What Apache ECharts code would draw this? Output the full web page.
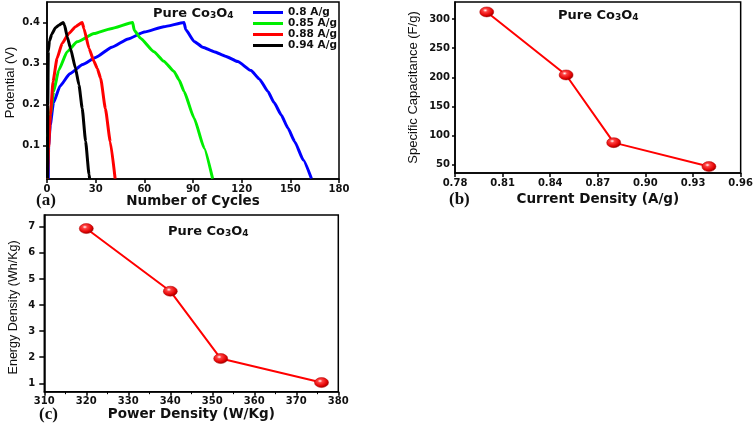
<!DOCTYPE html>
<html><head><meta charset="utf-8">
<script src="https://cdn.jsdelivr.net/npm/echarts@6/dist/echarts.min.js"></script>
<style>html,body{margin:0;padding:0;background:#fff}#c{width:756px;height:426px}</style>
</head><body><div id="c"></div>
<script>
// ---- Panel (a): galvanostatic charge/discharge ----
const seriesNamesA = ['0.8 A/g', '0.85 A/g', '0.88 A/g', '0.94 A/g'];
const cycles08 = [0.8, 1.0, 2, 4, 8, 14, 22, 30, 40, 50, 60, 72, 84.5, 85.5, 90.7, 96, 103, 110, 117.6, 125.8, 131, 136.2, 140, 144.4, 148.5, 152.7, 158, 163];
const pot08 = [0.02, 0.10, 0.15, 0.205, 0.245, 0.275, 0.298, 0.315, 0.34, 0.36, 0.377, 0.39, 0.40, 0.383, 0.354, 0.34, 0.329, 0.318, 0.305, 0.283, 0.262, 0.232, 0.205, 0.175, 0.143, 0.11, 0.065, 0.02];
const cycles085 = [0.3, 0.5, 2, 4.1, 7.2, 12.4, 18.6, 29, 39.3, 52.8, 53.8, 57.6, 65.9, 72, 78.3, 81.5, 84.5, 90.7, 96.9, 102.1];
const pot085 = [0.02, 0.12, 0.175, 0.232, 0.284, 0.329, 0.353, 0.373, 0.385, 0.40, 0.381, 0.362, 0.329, 0.306, 0.281, 0.26, 0.232, 0.167, 0.094, 0.02];
const cycles088 = [0.3, 1, 2.1, 3.7, 6.2, 9.3, 13.4, 17.6, 21.7, 22.8, 25.9, 29, 31, 33.1, 36, 39, 42];
const pot088 = [0.02, 0.094, 0.175, 0.256, 0.313, 0.349, 0.373, 0.39, 0.40, 0.385, 0.337, 0.305, 0.288, 0.264, 0.19, 0.11, 0.02];
const cycles094 = [0.3, 0.5, 0.8, 1.5, 3, 5.2, 7.5, 9.9, 10.8, 12.5, 14.5, 17.6, 19.7, 21.7, 23.8, 25.9, 26.3];
const pot094 = [0.02, 0.2, 0.33, 0.355, 0.372, 0.387, 0.394, 0.40, 0.394, 0.365, 0.337, 0.288, 0.248, 0.191, 0.111, 0.03, 0.02];
const cycleTicks = [0, 30, 60, 90, 120, 150, 180];
const potentialTicks = [0.1, 0.2, 0.3, 0.4];

// ---- Panel (b): specific capacitance ----
const currentDensity = [0.80, 0.85, 0.88, 0.94];
const specificCap = [312, 204, 88, 47];
const currentTicks = [0.78, 0.81, 0.84, 0.87, 0.90, 0.93, 0.96];
const capTicks = [50, 100, 150, 200, 250, 300];

// ---- Panel (c): Ragone ----
const powerDensity = [320, 340, 352, 376];
const energyDensity = [6.93, 4.53, 1.95, 1.03];
const powerTicks = [310, 320, 330, 340, 350, 360, 370, 380];
const energyTicks = [1, 2, 3, 4, 5, 6, 7];

const zip = (xs, ys) => xs.map((x, i) => [x, ys[i]]);
const HFONT = 'DejaVu Sans';
const VFONT = 'Liberation Sans';

function xAx(gi, min, max, ticks, name, gap, dec, minor) {
  return {
    type: 'value', gridIndex: gi, min: min, max: max,
    name: name, nameLocation: 'middle', nameGap: gap,
    nameTextStyle: {fontFamily: HFONT, fontWeight: 'bold', fontSize: 13.5, color: '#111'},
    axisLine: {show: true, lineStyle: {color: '#000', width: 1.5}},
    axisTick: {show: true, inside: false, length: 4, lineStyle: {width: 1.5, color: '#000'}, customValues: ticks},
    minorTick: {show: !!minor, splitNumber: 2, length: 2.5, lineStyle: {color: '#000', width: 1}},
    axisLabel: {customValues: ticks, margin: 5, fontFamily: HFONT, fontWeight: 'bold', fontSize: 10, color: '#111',
      formatter: v => dec ? v.toFixed(dec) : String(v)},
    splitLine: {show: false}
  };
}
function yAx(gi, min, max, ticks, name, gap, margin, tlen, extra) {
  return Object.assign({
    type: 'value', gridIndex: gi, min: min, max: max,
    name: name, nameLocation: 'middle', nameGap: gap, nameRotate: 90,
    nameTextStyle: {fontFamily: VFONT, fontWeight: 'normal', fontSize: 13, color: '#111'},
    axisLine: {show: true, lineStyle: {color: '#000', width: 1.5}},
    axisTick: {show: true, inside: false, length: tlen, lineStyle: {width: 1.5, color: '#000'}, customValues: ticks},
    axisLabel: {customValues: ticks, margin: margin, fontFamily: HFONT, fontWeight: 'bold', fontSize: 10, color: '#111',
      formatter: v => String(v)},
    splitLine: {show: false}
  }, extra || {});
}

const titleRich = {
  m: {fontFamily: HFONT, fontWeight: 'bold', fontSize: 13, color: '#111', lineHeight: 18, verticalAlign: 'bottom'},
  s: {fontFamily: HFONT, fontWeight: 'bold', fontSize: 9, color: '#111', lineHeight: 9, verticalAlign: 'bottom'}
};
const titleText = '{m|Pure Co}{s|3}{m|O}{s|4}';

const sphere = {
  type: 'radial', x: 0.4, y: 0.35, r: 0.65,
  colorStops: [{offset: 0, color: '#ffffff'}, {offset: 0.25, color: '#ff4040'}, {offset: 0.75, color: '#e00000'}, {offset: 1, color: '#900000'}]
};

const colorsA = ['#0000ff', '#00ee00', '#ff0000', '#000000'];
const dataA = [zip(cycles08, pot08), zip(cycles085, pot085), zip(cycles088, pot088), zip(cycles094, pot094)];

const option = {
  backgroundColor: '#ffffff',
  animation: false,
  title: [
    {text: titleText, left: 153, top: 2, padding: 0, textStyle: {rich: titleRich}},
    {text: titleText, left: 558, top: 4, padding: 0, textStyle: {rich: titleRich}},
    {text: titleText, left: 168, top: 220, padding: 0, textStyle: {rich: titleRich}}
  ],
  legend: {
    data: seriesNamesA, left: 253, top: 7, orient: 'vertical', itemWidth: 30, itemHeight: 3, itemGap: 0,
    icon: 'rect', padding: 0,
    textStyle: {fontFamily: HFONT, fontWeight: 'bold', fontSize: 10.5, color: '#111', lineHeight: 11}
  },
  grid: [
    {left: 47, right: 417, top: 2, bottom: 247, show: true, borderColor: '#000', borderWidth: 1.5, backgroundColor: 'transparent'},
    {left: 455, right: 14.5, top: 2, bottom: 253, show: true, borderColor: '#000', borderWidth: 1.5, backgroundColor: 'transparent'},
    {left: 44.3, right: 417.7, top: 215, bottom: 34.3, show: true, borderColor: '#000', borderWidth: 1.5, backgroundColor: 'transparent'}
  ],
  xAxis: [
    xAx(0, 0, 180, cycleTicks, 'Number of Cycles', 13, 0, false),
    xAx(1, 0.78, 0.96, currentTicks, 'Current Density (A/g)', 19, 2, false),
    xAx(2, 310, 380, powerTicks, 'Power Density (W/Kg)', 16, 0, true)
  ],
  yAxis: [
    yAx(0, 0.019, 0.45, potentialTicks, 'Potential (V)', 30, 7, 4, {nameTextStyle: {fontFamily: VFONT, fontSize: 13, color: '#111', padding: [0, 0, 0, 16]}}),
    yAx(1, 36, 329, capTicks, 'Specific Capacitance (F/g)', 35, 5, 3),
    yAx(2, 0.68, 7.45, energyTicks, 'Energy Density (Wh/Kg)', 24, 9, 5, {nameTextStyle: {fontFamily: VFONT, fontSize: 12.5, color: '#111', padding: [0, 8, 0, 0]}})
  ],
  graphic: [
    {type: 'text', left: 36, top: 192, style: {text: '(a)', font: 'bold 17px "Liberation Serif"', fill: '#111'}},
    {type: 'text', left: 449, top: 191, style: {text: '(b)', font: 'bold 17px "Liberation Serif"', fill: '#111'}},
    {type: 'text', left: 39, top: 406, style: {text: '(c)', font: 'bold 17px "Liberation Serif"', fill: '#111'}}
  ],
  series: [
    ...seriesNamesA.map((n, i) => ({
      name: n, type: 'line', xAxisIndex: 0, yAxisIndex: 0, data: dataA[i],
      showSymbol: false, symbol: 'none', smooth: 0.15, smoothMonotone: 'x',
      lineStyle: {color: colorsA[i], width: 3}, itemStyle: {color: colorsA[i]}
    })),
    {type: 'line', xAxisIndex: 1, yAxisIndex: 1, data: zip(currentDensity, specificCap),
      symbol: 'circle', symbolSize: [14, 10], lineStyle: {color: '#ff0000', width: 2},
      itemStyle: {color: sphere, borderColor: '#b00000', borderWidth: 0.5}},
    {type: 'line', xAxisIndex: 2, yAxisIndex: 2, data: zip(powerDensity, energyDensity),
      symbol: 'circle', symbolSize: [14, 10], lineStyle: {color: '#ff0000', width: 2},
      itemStyle: {color: sphere, borderColor: '#b00000', borderWidth: 0.5}}
  ]
};
const chart = echarts.init(document.getElementById('c'), null, {renderer: 'canvas'});
chart.setOption(option);
</script>
</body></html>
